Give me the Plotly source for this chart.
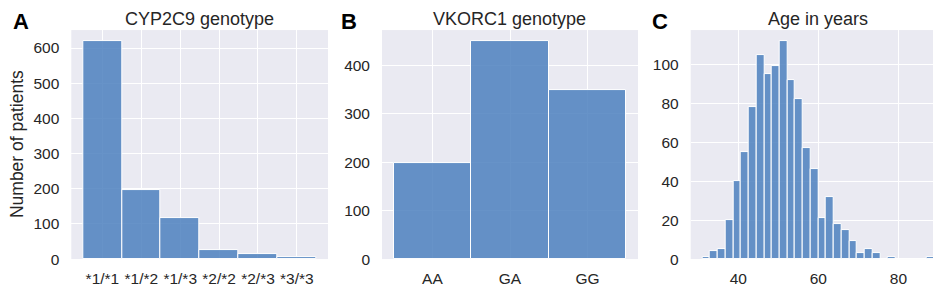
import numpy as np
import plotly.graph_objects as go

# ---- data ----
cyp_genotypes = ["*1/*1", "*1/*2", "*1/*3", "*2/*2", "*2/*3", "*3/*3"]
cyp_counts = [620, 197, 117, 26, 15, 6]

vkorc_genotypes = ["AA", "GA", "GG"]
vkorc_counts = [199, 450, 348]

age_min, age_max = 31, 89
age_counts = [1, 4, 5, 20, 40, 55, 78, 105, 95, 99, 112, 92, 82, 57, 46,
              21, 32, 18, 15, 9, 3, 5, 3, 0, 1, 0, 0, 0, 0, 1]

titles = ["CYP2C9 genotype", "VKORC1 genotype", "Age in years"]
letters = ["A", "B", "C"]
ylabel = "Number of patients"

# ---- style ----
W, H = 941, 286
BG = "#EAEAF2"
BAR = "rgba(76,128,190,0.85)"
TXT = "#262626"
FONT = "Liberation Sans, Arial, sans-serif"
TICK = 15.5

# plot areas in pixels (left, right)
px_x = [(63.3, 320.0), (374.0, 630.0), (682.7, 938.0)]
top_px, bot_px = 22.7, 258.3
ydom = [1 - bot_px / H, 1 - top_px / H]

edges = np.linspace(age_min, age_max, len(age_counts) + 1)
centers = (edges[:-1] + edges[1:]) / 2
bw = edges[1] - edges[0]

fig = go.Figure()
marker = dict(color=BAR, line=dict(color="white", width=1))
fig.add_trace(go.Bar(x=cyp_genotypes, y=cyp_counts, width=1, marker=marker,
                     xaxis="x", yaxis="y"))
fig.add_trace(go.Bar(x=vkorc_genotypes, y=vkorc_counts, width=1, marker=marker,
                     xaxis="x2", yaxis="y2"))
fig.add_trace(go.Bar(x=centers, y=age_counts, width=bw, marker=marker,
                     xaxis="x3", yaxis="y3"))

axcommon = dict(showgrid=True, gridcolor="white", gridwidth=1.3, zeroline=False,
                showline=False, ticks="", tickfont=dict(size=TICK, color=TXT, family=FONT),
                fixedrange=True)

span = age_max - age_min
fig.update_layout(
    width=W, height=H, margin=dict(l=0, r=0, t=0, b=0),
    paper_bgcolor="white", plot_bgcolor=BG, showlegend=False,
    bargap=0, font=dict(family=FONT, color=TXT),
    xaxis=dict(domain=[px_x[0][0] / W, px_x[0][1] / W], anchor="y", type="category",
               range=[-0.8, 5.8], ticklabelstandoff=8, **axcommon),
    yaxis=dict(domain=ydom, anchor="x", range=[0, max(cyp_counts) * 1.05], dtick=100,
               ticklabelstandoff=11, **axcommon),
    xaxis2=dict(domain=[px_x[1][0] / W, px_x[1][1] / W], anchor="y2", type="category",
                range=[-0.65, 2.65], ticklabelstandoff=8, **axcommon),
    yaxis2=dict(domain=ydom, anchor="x2", range=[0, max(vkorc_counts) * 1.05], dtick=100,
                ticklabelstandoff=11, **axcommon),
    xaxis3=dict(domain=[px_x[2][0] / W, px_x[2][1] / W], anchor="y3",
                range=[age_min - 0.05 * span, age_max + 0.05 * span],
                tickvals=[40, 60, 80], ticklabelstandoff=8, **axcommon),
    yaxis3=dict(domain=ydom, anchor="x3", range=[0, max(age_counts) * 1.05], dtick=20,
                ticklabelstandoff=11, **axcommon),
)

annots = []
letter_x = [12.5, 341.0, 652.0]
for i in range(3):
    cx = (px_x[i][0] + px_x[i][1]) / 2
    annots.append(dict(text=titles[i], x=cx / W, y=1, xref="paper", yref="paper",
                       xanchor="center", yanchor="top", showarrow=False, borderpad=0,
                       font=dict(size=18, color=TXT, family=FONT)))
    annots.append(dict(text="<b>%s</b>" % letters[i], x=letter_x[i] / W, y=1,
                       xref="paper", yref="paper", xanchor="center", yanchor="top",
                       showarrow=False, borderpad=0,
                       font=dict(size=22, color="black", family=FONT)))
annots.append(dict(text=ylabel, x=8.5 / W, y=1 - 140.5 / H, xref="paper", yref="paper",
                   xanchor="center", yanchor="middle", textangle=-90, showarrow=False,
                   font=dict(size=17.5, color=TXT, family=FONT)))
fig.update_layout(annotations=annots)

fig.write_html("out.html")
